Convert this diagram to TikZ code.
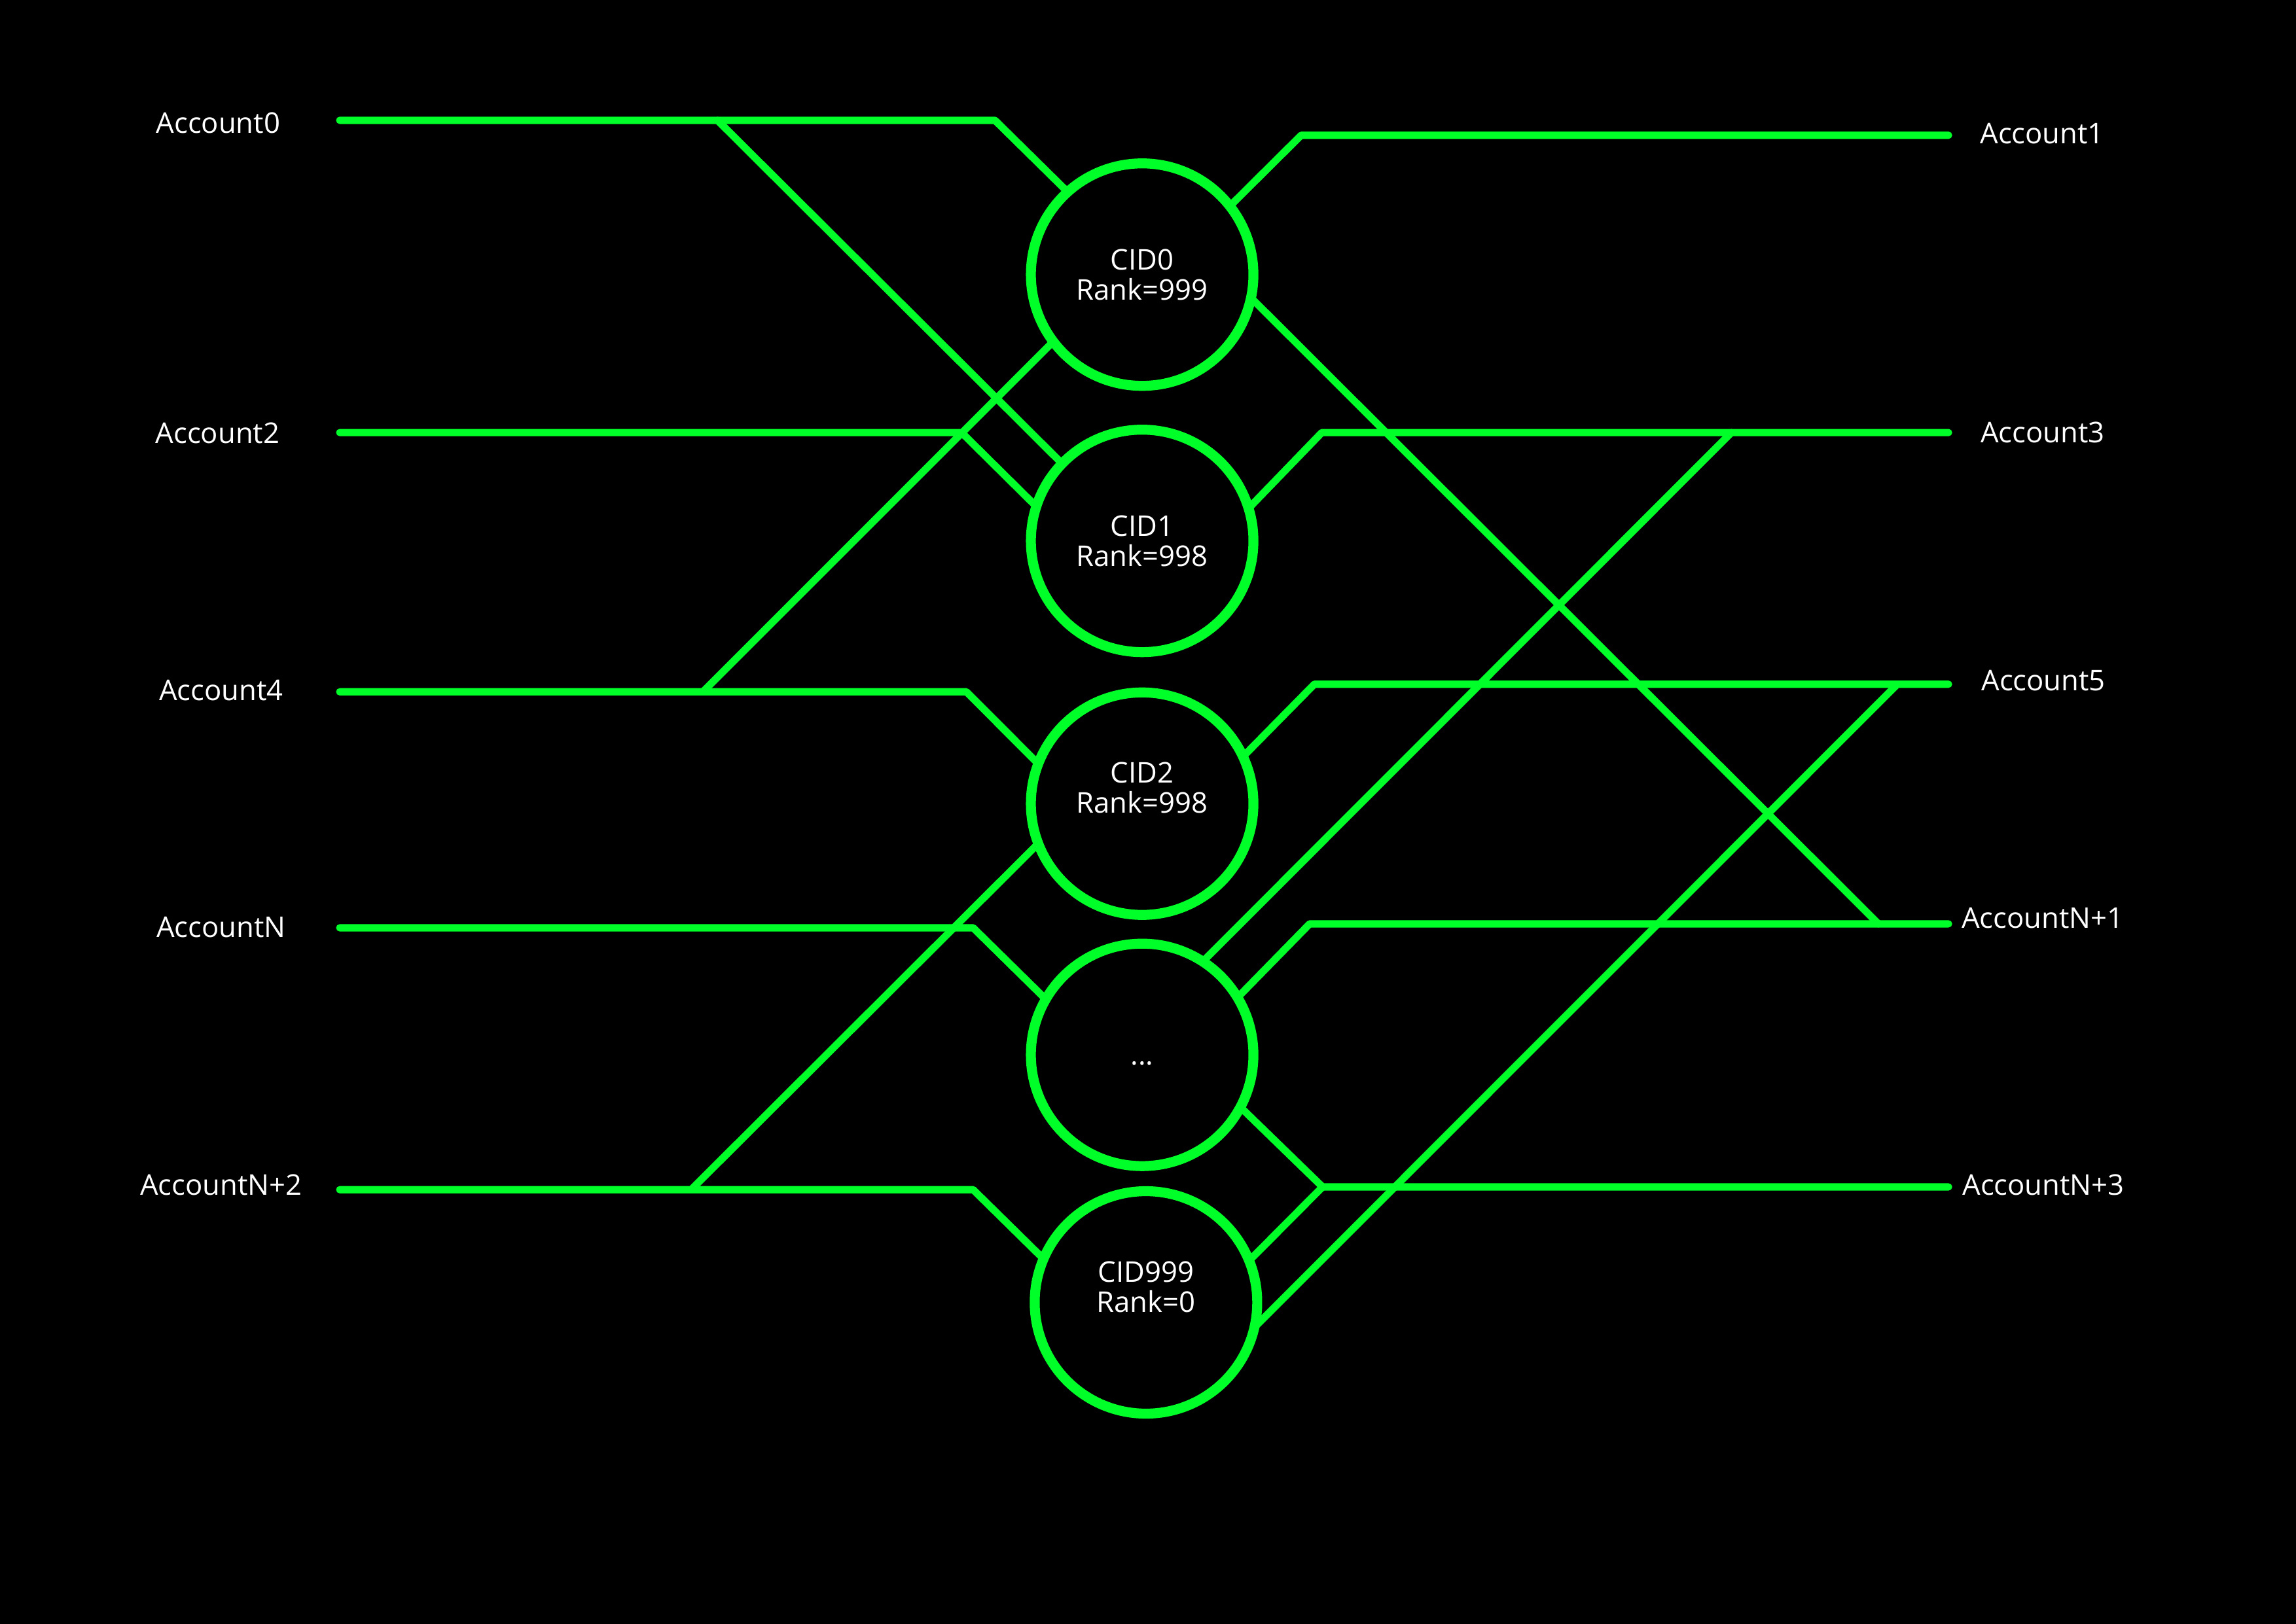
\documentclass[tikz,border=0pt]{standalone}
\usepackage{fontspec}
\setmainfont{Open Sans}
\usetikzlibrary{calc}
\definecolor{neon}{RGB}{0,255,40}
\pgfdeclarelayer{bg}
\pgfdeclarelayer{wires}
\pgfsetlayers{bg,wires,main}
\begin{document}
\begin{tikzpicture}[x=0.02cm,y=-0.02cm,
  wire/.style={draw=neon,line width=0.1cm,line cap=round,line join=round},
  cid/.style={circle,draw=neon,fill=black,line width=0.136cm,minimum size=3.04cm,inner sep=0pt,outer sep=0pt},
  ctext/.style={text=white,align=center,font=\fontsize{11.1}{11.7}\selectfont,inner sep=0pt},
  acct/.style={text=white,font=\fontsize{11.1}{13}\selectfont,inner sep=0pt,text height=0.274cm,text depth=0pt,anchor=center}]
\useasboundingbox (0,0) rectangle (1568,1109);
\begin{pgfonlayer}{bg}
\fill[black] (-10,-10) rectangle (1578,1119);
\end{pgfonlayer}

% circles
\node[cid] (c0) at (780,187.6) {};
\node[cid] (c1) at (780,369.5) {};
\node[cid] (c2) at (780,549) {};
\node[cid] (c3) at (780,720.6) {};
\node[cid] (c4) at (782.6,889.7) {};

\node[ctext] (t0) at (c0) {CID0\\Rank=999};
\node[ctext] (t1) at (c1) {CID1\\Rank=998};
\node[ctext] (t2) at ($(c2)+(0,-10.8)$) {CID2\\Rank=998};
\node[ctext,text height=0.274cm,text depth=0pt] (t3) at (c3) {...};
\node[ctext] (t4) at ($(c4)+(0,-10.7)$) {CID999\\Rank=0};

% labels
\node[acct] (l0) at (149,84.3) {Account0};
\node[acct] (l2) at (148.6,295.8) {Account2};
\node[acct] (l4) at (151,471.8) {Account4};
\node[acct] (lN) at (151,633.3) {AccountN};
\node[acct] (lN2) at (151,809.4) {AccountN+2};
\node[acct] (r1) at (1394.6,91.3) {Account1};
\node[acct] (r3) at (1395,295.7) {Account3};
\node[acct] (r5) at (1395.5,465) {Account5};
\node[acct] (rN1) at (1395,627) {AccountN+1};
\node[acct] (rN3) at (1395.5,809.4) {AccountN+3};

% wire points
\coordinate (a0s) at (232,82.2);
\coordinate (a2s) at (232,295.5);
\coordinate (a4s) at (232,472.6);
\coordinate (aNs) at (232,633.8);
\coordinate (aN2s) at (232,812.7);
\coordinate (k0) at (679.5,82.2);
\coordinate (b0) at (490,82.2);
\coordinate (k2) at (656.7,295.5);
\coordinate (k4) at (660,472.6);
\coordinate (b4) at (480,472.6);
\coordinate (kN) at (664.6,633.8);
\coordinate (kN2) at (664.6,812.7);
\coordinate (bN2) at (472,812.7);

\coordinate (a1e) at (1330.7,92.4);
\coordinate (a3e) at (1330.7,295.5);
\coordinate (a5e) at (1330.7,467.4);
\coordinate (aN1e) at (1330.7,631.1);
\coordinate (aN3e) at (1330.7,810.8);
\coordinate (k1) at (888.6,92.4);
\coordinate (k3) at (902.7,295.5);
\coordinate (e3) at (1182.4,295.5);
\coordinate (k5) at (897.6,467.4);
\coordinate (e5) at (1295.8,467.4);
\coordinate (kN1) at (894.4,631.1);
\coordinate (eN1) at (1282.8,631.1);
\coordinate (kN3) at (903.2,810.8);

\begin{pgfonlayer}{wires}
% left side
\draw[wire] (a0s) -- (k0) -- (c0.132.4);
\draw[wire] (b0) -- (c1.136.7);
\draw[wire] (a2s) -- (k2) -- (c1.162.45);
\draw[wire] (a4s) -- (k4) -- (c2.159.1);
\draw[wire] (b4) -- (c0.217);
\draw[wire] (aNs) -- (kN) -- (c3.150.35);
\draw[wire] (aN2s) -- (kN2) -- (c4.157.3);
\draw[wire] (bN2) -- (c2.201.1);
% right side
\draw[wire] (c0.38) -- (k1) -- (a1e);
\draw[wire] (c0.348.3) -- (eN1);
\draw[wire] (c1.17.9) -- (k3) -- (a3e);
\draw[wire] (c3.57.1) -- (e3);
\draw[wire] (c2.25.3) -- (k5) -- (a5e);
\draw[wire] (c3.31.7) -- (kN1) -- (aN1e);
\draw[wire] (c3.332.8) -- (kN3) -- (aN3e);
\draw[wire] (c4.22.3) -- (kN3);
\draw[wire] (c4.347.7) -- (e5);
\end{pgfonlayer}
\end{tikzpicture}
\end{document}
